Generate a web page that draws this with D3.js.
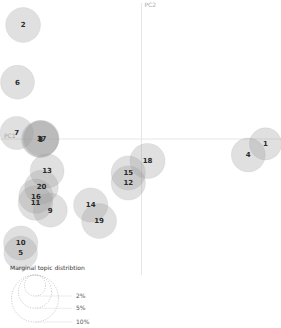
<!DOCTYPE html>
<html lang="en">
<head>
<meta charset="utf-8">
<script src="https://d3js.org/d3.v7.min.js"></script>
<style>
  body { margin: 0; background: #fff; }
  svg { font-family: "DejaVu Sans", sans-serif; }
</style>
</head>
<body>
<svg id="chart" width="281" height="328"></svg>
<script>
// topic ids, PC coordinates and marginal topic share (%)
const topics = [1, 2, 3, 4, 5, 6, 7, 8, 9, 10, 11, 12, 13, 14, 15, 16, 17, 18, 19, 20];
const pc1 = [0.31, -0.296, -0.254, 0.267, -0.302, -0.31, -0.312, -0.252, -0.228, -0.302, -0.265, -0.033, -0.236, -0.127, -0.033, -0.264, -0.25, 0.015, -0.106, -0.25];
const pc2 = [-0.012, 0.285, 0.0, -0.04, -0.285, 0.142, 0.015, -0.001, -0.178, -0.26, -0.16, -0.11, -0.08, -0.165, -0.085, -0.143, 0.002, -0.055, -0.205, -0.12];
const share = [4.7, 5.5, 6.2, 5.2, 5.1, 5.2, 5.0, 5.8, 5.2, 5.3, 5.4, 5.3, 5.2, 5.3, 5.3, 5.3, 5.6, 5.6, 5.5, 5.1];
const legendShares = [2, 5, 10];
const legendLabels = ["2%", "5%", "10%"];

const svg = d3.select("#chart");
const x = d3.scaleLinear().domain([-0.35, 0.35]).range([1.5, 281.5]);
const y = d3.scaleLinear().domain([-0.35, 0.35]).range([279, -1]);
const r = d3.scaleSqrt().domain([0, 10]).range([0, 23.5]);

// axes through origin
svg.append("line")
  .attr("x1", 0).attr("x2", 281)
  .attr("y1", y(0)).attr("y2", y(0))
  .attr("stroke", "#e6e6e6").attr("stroke-width", 1);
svg.append("line")
  .attr("x1", x(0)).attr("x2", x(0))
  .attr("y1", 3).attr("y2", 275)
  .attr("stroke", "#e6e6e6").attr("stroke-width", 1);
svg.append("text").attr("x", x(0) + 3).attr("y", 7)
  .attr("font-size", 6).attr("fill", "#aaa").text("PC2");
svg.append("text").attr("x", 4).attr("y", y(0) - 1)
  .attr("font-size", 6).attr("fill", "#aaa").text("PC1");

const data = topics.map((t, i) => ({ t: t, x: pc1[i], y: pc2[i], p: share[i] }));

svg.append("g").selectAll("circle")
  .data(data).enter().append("circle")
  .attr("cx", d => x(d.x))
  .attr("cy", d => y(d.y))
  .attr("r", d => r(d.p))
  .attr("fill", "#999")
  .attr("fill-opacity", 0.3)
  .attr("stroke", "#999")
  .attr("stroke-opacity", 0.15);

svg.append("g").selectAll("text")
  .data(data).enter().append("text")
  .attr("x", d => x(d.x))
  .attr("y", d => y(d.y))
  .attr("dy", "0.35em")
  .attr("text-anchor", "middle")
  .attr("font-size", 7)
  .attr("font-weight", "bold")
  .attr("fill", "#2a2a2a")
  .text(d => d.t);

// legend
svg.append("text").attr("x", 10).attr("y", 270)
  .attr("font-size", 6).attr("fill", "#333")
  .text("Marginal topic distribtion");

const lx = 35, ltop = 275;
const leg = svg.append("g");
legendShares.forEach((s, i) => {
  const rr = r(s);
  leg.append("circle")
    .attr("cx", lx).attr("cy", ltop + rr).attr("r", rr)
    .attr("fill", "none").attr("stroke", "#aaa")
    .attr("stroke-width", 0.7).attr("stroke-dasharray", "1,1.5");
  leg.append("line")
    .attr("x1", lx).attr("x2", 72)
    .attr("y1", ltop + 2 * rr).attr("y2", ltop + 2 * rr)
    .attr("stroke", "#ddd").attr("stroke-width", 0.6);
  leg.append("text")
    .attr("x", 76).attr("y", ltop + 2 * rr + 2)
    .attr("font-size", 6).attr("fill", "#555")
    .text(legendLabels[i]);
});
</script>
</body>
</html>
